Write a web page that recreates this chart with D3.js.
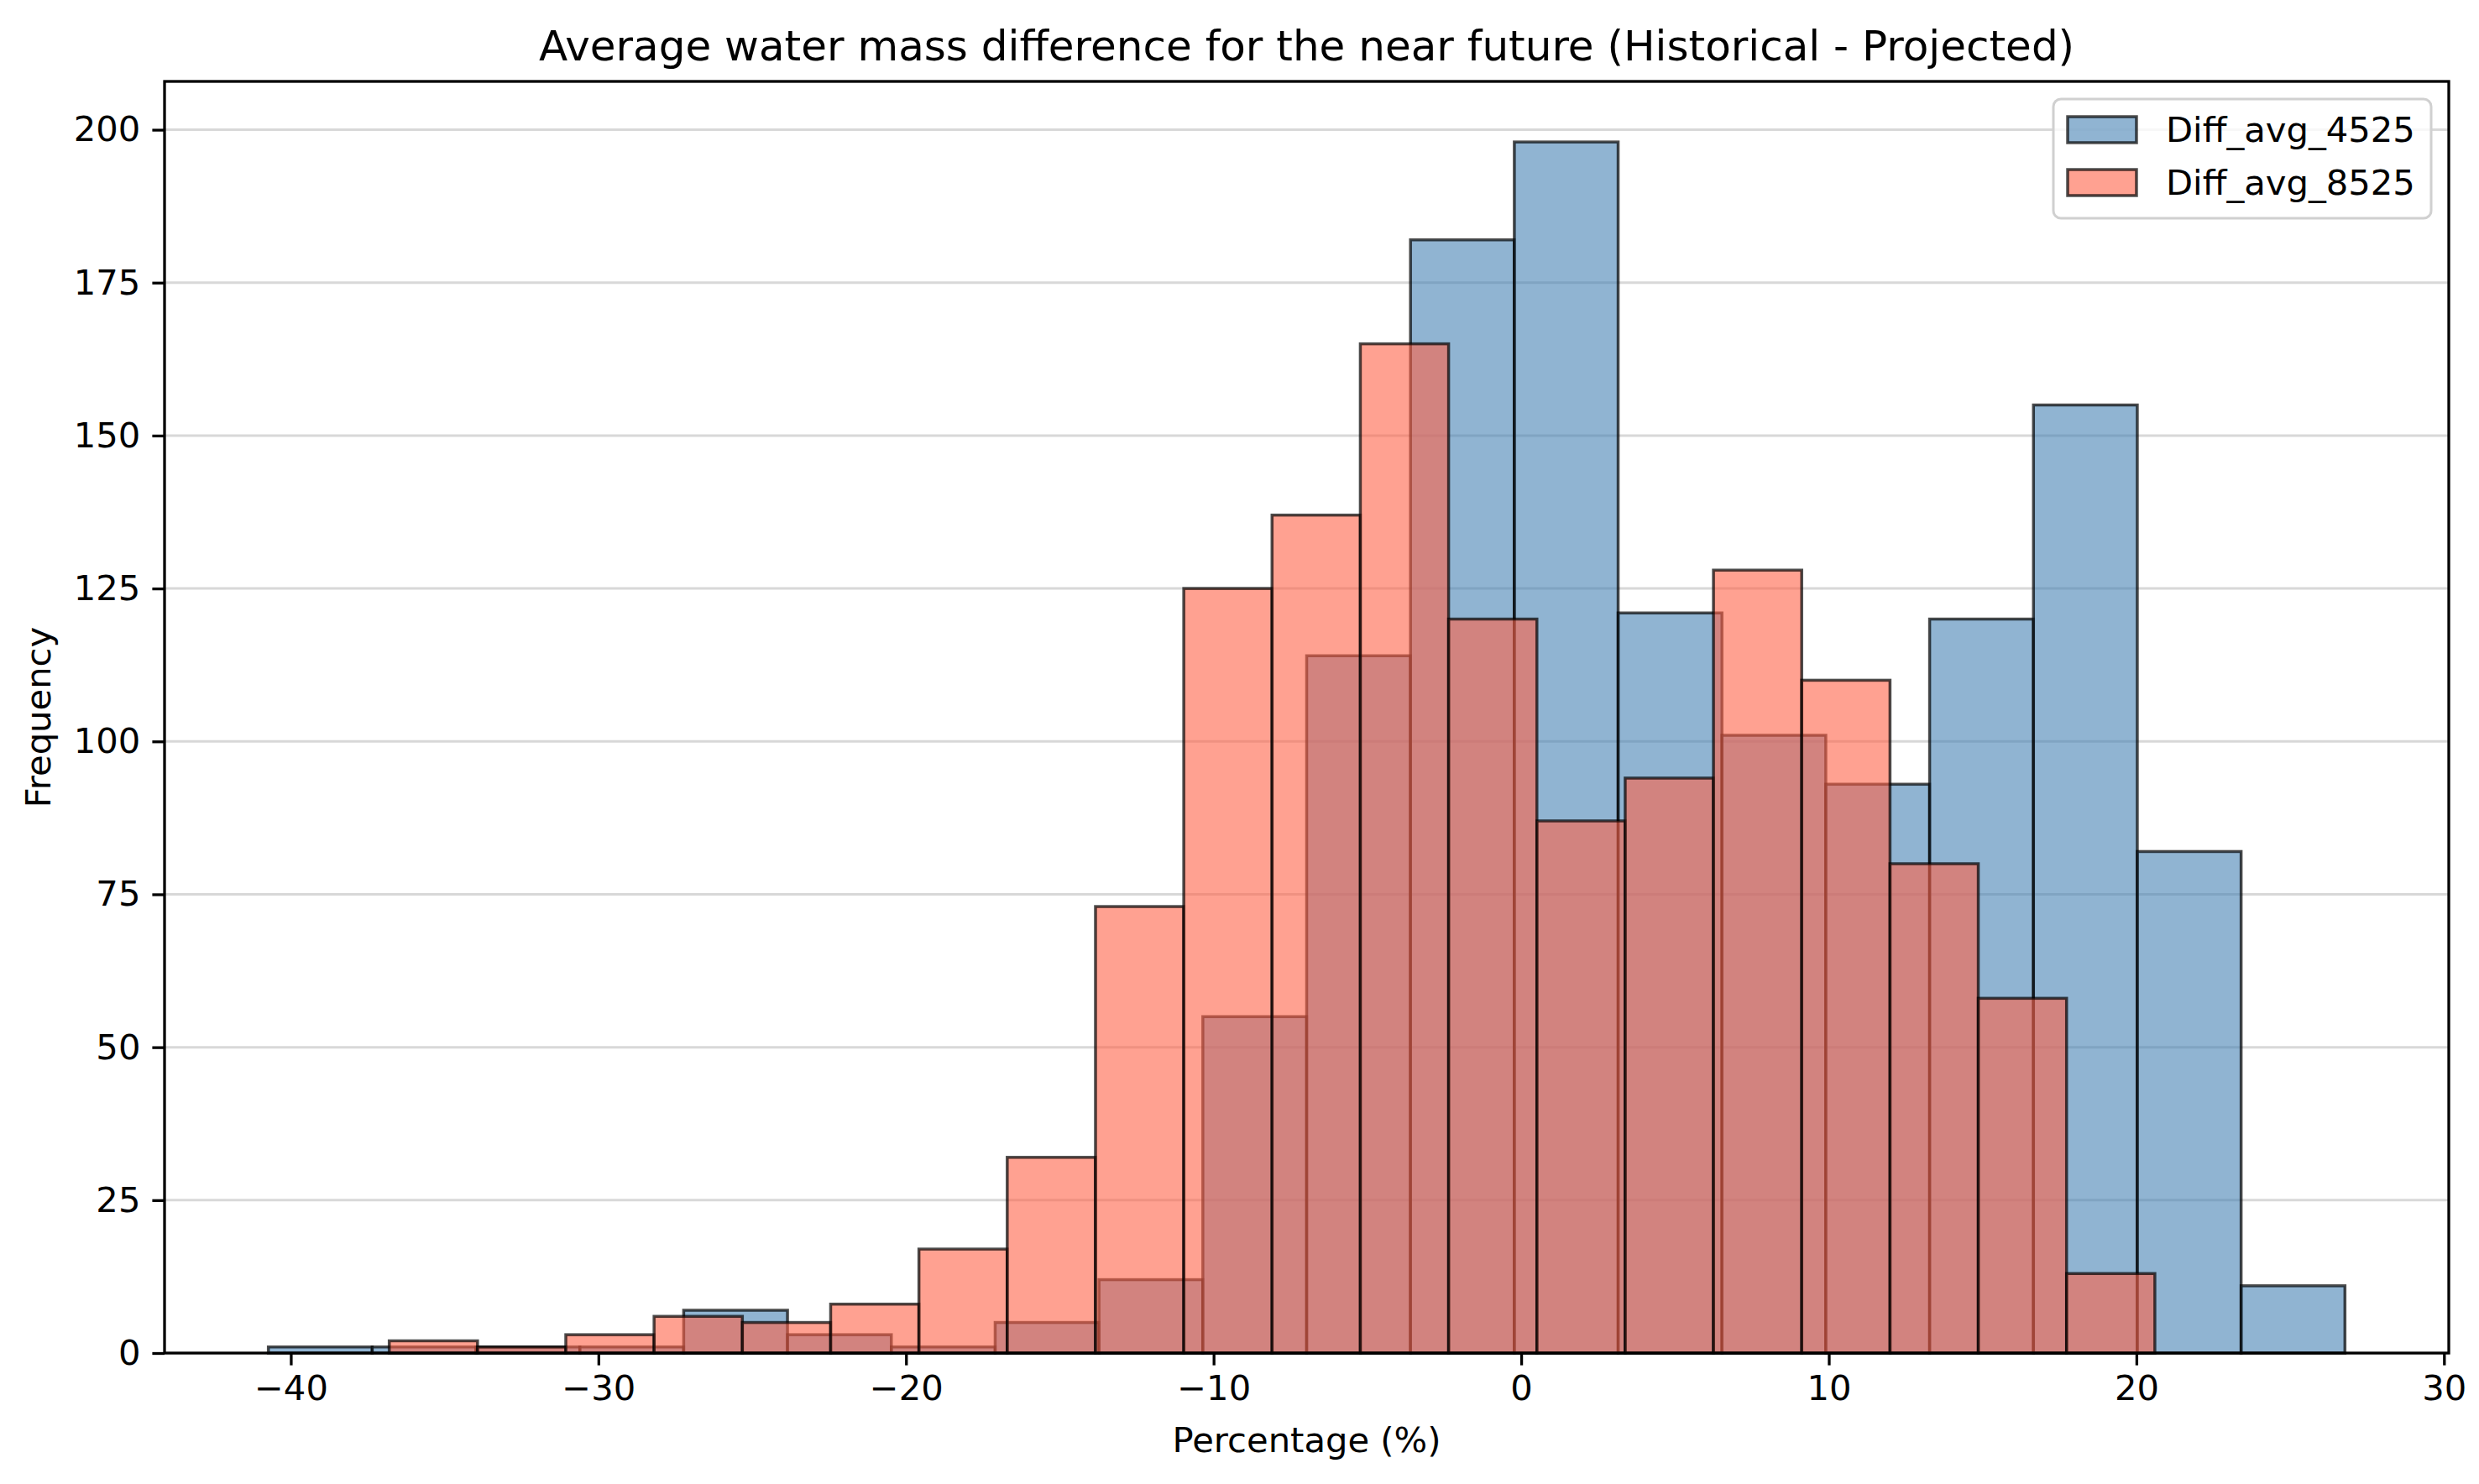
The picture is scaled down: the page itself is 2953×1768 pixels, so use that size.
<!DOCTYPE html>
<html>
<head>
<meta charset="utf-8">
<script src="https://cdn.jsdelivr.net/npm/d3@7"></script>
<style>
    body { margin: 0; background: #fff; }
    svg { display: block; font-family: "DejaVu Sans", sans-serif; }
</style>
</head>
<body>
<div id="chart"></div>
<script>
// bin ranges (min, max) of each series, matplotlib splits each into 20 equal bins
const binRange4525 = [-40.73, 26.78];
const binRange8525 = [-36.8, 20.6];

const counts4525 = [1, 1, 1, 1, 7, 3, 1, 5, 12, 55, 114, 182, 198, 121, 101, 93, 120, 155, 82, 11];
const counts8525 = [2, 1, 3, 6, 5, 8, 17, 32, 73, 125, 137, 165, 120, 87, 94, 128, 110, 80, 58, 13];

const seriesNames = ["Diff_avg_4525", "Diff_avg_8525"];
const xTicks = [-40, -30, -20, -10, 0, 10, 20, 30];
const yTicks = [0, 25, 50, 75, 100, 125, 150, 175, 200];

const titleText = "Average water mass difference for the near future (Historical - Projected)";
const xLabel = "Percentage (%)";
const yLabel = "Frequency";

class OverlapHistogram{
    constructor(parentSelector){
        this.parent = d3.select(parentSelector);
        this.wSvg = 2953;
        this.hSvg = 1768;
        this.margin = {top: 97, right: 36, bottom: 156, left: 196};
        this.wViz = this.wSvg - this.margin.left - this.margin.right;
        this.hViz = this.hSvg - this.margin.top - this.margin.bottom;

        this.colors = {
            blue: "steelblue",
            red: "tomato",
            grid: "#d8d8d8",
            text: "#000"
        };
        this.fontSize = 41.7;

        this.series = [
            {name: seriesNames[0], color: this.colors.blue, bins: this.makeBins(binRange4525, counts4525)},
            {name: seriesNames[1], color: this.colors.red, bins: this.makeBins(binRange8525, counts8525)}
        ];

        this.init();
    }

    makeBins(range, counts){
        const step = (range[1] - range[0]) / counts.length;
        return counts.map((c, i) => ({x0: range[0] + i * step, x1: range[0] + (i + 1) * step, count: c}));
    }

    init(){
        this.svg = this.parent.append("svg")
            .attr("width", this.wSvg)
            .attr("height", this.hSvg);

        this.graphGroup = this.svg.append("g")
            .attr("transform", `translate(${this.margin.left}, ${this.margin.top})`);

        this.prepScales();
        this.renderGrid();
        this.renderBars();
        this.renderAxes();
        this.renderLabels();
        this.renderLegend();
    }

    prepScales(){
        const lo = d3.min([binRange4525[0], binRange8525[0]]);
        const hi = d3.max([binRange4525[1], binRange8525[1]]);
        const pad = (hi - lo) * 0.05;
        const maxCount = d3.max(counts4525.concat(counts8525));

        this.xScale = d3.scaleLinear()
            .domain([lo - pad, hi + pad])
            .range([0, this.wViz]);

        this.yScale = d3.scaleLinear()
            .domain([0, maxCount * 1.05])
            .range([this.hViz, 0]);
    }

    renderGrid(){
        this.graphGroup.append("g").classed("grid", true)
            .selectAll("line")
            .data(yTicks)
            .enter().append("line")
                .attr("x1", 0)
                .attr("x2", this.wViz)
                .attr("y1", d => this.yScale(d))
                .attr("y2", d => this.yScale(d))
                .attr("stroke", this.colors.grid)
                .attr("stroke-width", 3);
    }

    renderBars(){
        for(const s of this.series){
            this.graphGroup.append("g").classed("bars", true)
                .selectAll("rect")
                .data(s.bins.filter(b => b.count > 0))
                .enter().append("rect")
                    .attr("x", d => this.xScale(d.x0))
                    .attr("width", d => this.xScale(d.x1) - this.xScale(d.x0))
                    .attr("y", d => this.yScale(d.count))
                    .attr("height", d => this.yScale(0) - this.yScale(d.count))
                    .attr("fill", s.color)
                    .attr("fill-opacity", 0.6)
                    .attr("stroke", "#000")
                    .attr("stroke-opacity", 0.7)
                    .attr("stroke-width", 3.5);
        }
    }

    renderAxes(){
        const xAxis = d3.axisBottom(this.xScale)
            .tickValues(xTicks)
            .tickSize(14.6)
            .tickPadding(12)
            .tickFormat(d => d3.format("d")(d).replace("-", "\u2212"));

        const yAxis = d3.axisLeft(this.yScale)
            .tickValues(yTicks)
            .tickSize(14.6)
            .tickPadding(14)
            .tickFormat(d3.format("d"));

        const gx = this.graphGroup.append("g")
            .attr("transform", `translate(0, ${this.hViz})`)
            .call(xAxis);
        const gy = this.graphGroup.append("g").call(yAxis);

        for(const g of [gx, gy]){
            g.select(".domain").remove();
            g.selectAll(".tick line").attr("stroke", "#000").attr("stroke-width", 3.3);
            g.selectAll(".tick text")
                .attr("fill", this.colors.text)
                .style("font-size", this.fontSize + "px")
                .style("font-family", "DejaVu Sans");
        }

        // frame like matplotlib spines
        this.graphGroup.append("rect")
            .attr("width", this.wViz)
            .attr("height", this.hViz)
            .attr("fill", "none")
            .attr("stroke", "#000")
            .attr("stroke-width", 3.3);
    }

    renderLabels(){
        this.svg.append("text")
            .attr("x", this.margin.left + this.wViz / 2)
            .attr("y", 72)
            .attr("text-anchor", "middle")
            .style("font-size", "50px")
            .text(titleText);

        this.svg.append("text")
            .attr("x", this.margin.left + this.wViz / 2)
            .attr("y", 1730)
            .attr("text-anchor", "middle")
            .style("font-size", this.fontSize + "px")
            .text(xLabel);

        this.svg.append("text")
            .attr("transform", `translate(60, ${this.margin.top + this.hViz / 2}) rotate(-90)`)
            .attr("text-anchor", "middle")
            .style("font-size", this.fontSize + "px")
            .text(yLabel);
    }

    renderLegend(){
        const legend = this.svg.append("g").classed("legend", true)
            .attr("transform", "translate(2446, 118)");

        legend.append("rect")
            .attr("width", 450)
            .attr("height", 142)
            .attr("rx", 9)
            .attr("fill", "#fff")
            .attr("fill-opacity", 0.8)
            .attr("stroke", "#d0d0d0")
            .attr("stroke-width", 3);

        const items = legend.selectAll("g.item")
            .data(this.series)
            .enter().append("g")
                .classed("item", true)
                .attr("transform", (d, i) => `translate(17, ${21 + i * 63})`);

        items.append("rect")
            .attr("width", 82)
            .attr("height", 31)
            .attr("fill", d => d.color)
            .attr("fill-opacity", 0.6)
            .attr("stroke", "#000")
            .attr("stroke-opacity", 0.7)
            .attr("stroke-width", 3.5);

        items.append("text")
            .attr("x", 117)
            .attr("y", 30)
            .style("font-size", this.fontSize + "px")
            .text(d => d.name);
    }
}

new OverlapHistogram("#chart");
</script>
</body>
</html>
